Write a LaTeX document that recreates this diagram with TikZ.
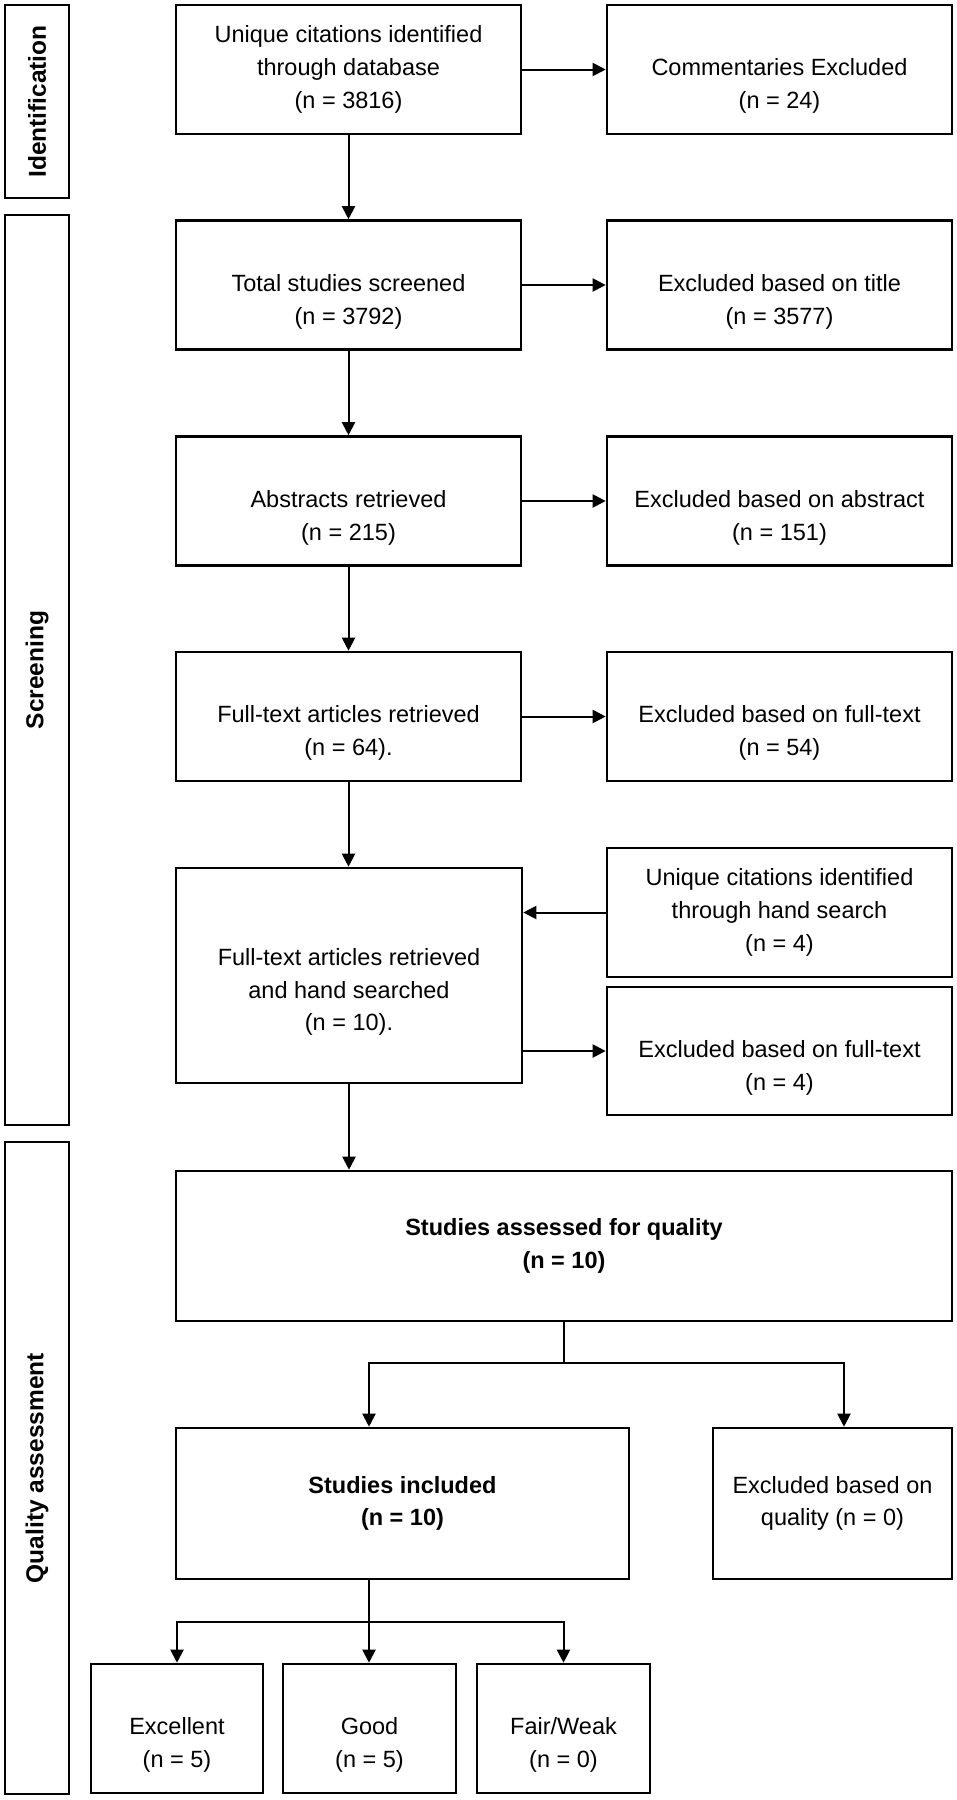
\documentclass[tikz,border=0pt]{standalone}
\usepackage{fontspec}
\setmainfont{Liberation Sans}
\usetikzlibrary{arrows.meta}
\newcommand{\myblank}{\rule{0pt}{17.5pt}\\}
\begin{document}
\begin{tikzpicture}[x=1pt,y=-1pt,
  box/.style={draw=black, line width=2.6pt, align=center, inner sep=0pt,
    font=\fontsize{23.5}{32.7}\selectfont},
  boldbox/.style={box, font=\fontsize{23.5}{32.7}\selectfont\bfseries},
  boxsize/.style 2 args={minimum width=#1pt, minimum height=#2pt},
  side/.style={draw=black, line width=2.6pt, inner sep=0pt, rotate=90,
    font=\fontsize{24.5}{28}\selectfont\bfseries},
  conn/.style={line width=2pt, line cap=rect},
  arr/.style={line width=2pt, -{Triangle[length=13pt,width=13pt]}},
]
\path[use as bounding box] (0,0) rectangle (957,1800);

% side labels
\node[side, boxsize={193}{64}] (sid) at (37,101.5) {Identification};
\node[side, boxsize={910}{64}] (sscr) at (37,670) {Screening};
\node[side, boxsize={652}{64}] (squal) at (37,1468) {Quality assessment};

% main column
\node[box, boxsize={345}{129}] (b1) at (348.5,69.5) {Unique citations identified\\through database\\(n = 3816)};
\node[box, boxsize={345}{129}] (c1) at (779.5,69.5) {\myblank Commentaries Excluded\\(n = 24)};
\node[box, boxsize={345}{129}] (b2) at (348.5,285) {\myblank Total studies screened\\(n = 3792)};
\node[box, boxsize={345}{129}] (c2) at (779.5,285) {\myblank Excluded based on title\\(n = 3577)};
\node[box, boxsize={345}{129}] (b3) at (348.5,501) {\myblank Abstracts retrieved\\(n = 215)};
\node[box, boxsize={345}{129}] (c3) at (779.5,501) {\myblank Excluded based on abstract\\(n = 151)};
\node[box, boxsize={345}{129}] (b4) at (348.5,716.5) {\myblank Full-text articles retrieved\\(n = 64).};
\node[box, boxsize={345}{129}] (c4) at (779.5,716.5) {\myblank Excluded based on full-text\\(n = 54)};

\node[box, boxsize={346}{215}] (b5) at (349,975.5) {\myblank Full-text articles retrieved\\and hand searched\\(n = 10).};
\node[box, boxsize={345}{129}] (hs) at (779.5,912.5) {Unique citations identified\\through hand search\\(n = 4)};
\node[box, boxsize={345}{128}] (c5) at (779.5,1051) {\myblank Excluded based on full-text\\(n = 4)};

\node[boldbox, boxsize={776}{150}] (ass) at (564,1246) {Studies assessed for quality\\(n = 10)};
\node[boldbox, boxsize={453}{151}] (incl) at (402.5,1503.5) {Studies included\\(n = 10)};
\node[box, boxsize={239}{151}] (exq) at (832.5,1503.5) {Excluded based on\\quality (n = 0)};

\node[box, boxsize={172}{129}] (exc) at (177,1728.5) {\myblank Excellent\\(n = 5)};
\node[box, boxsize={173}{129}] (good) at (369.5,1728.5) {\myblank Good\\(n = 5)};
\node[box, boxsize={173}{129}] (fair) at (563.5,1728.5) {\myblank Fair/Weak\\(n = 0)};

% connectors
\draw[arr] (b1) -- (c1);
\draw[arr] (b1) -- (b2);
\draw[arr] (b2) -- (c2);
\draw[arr] (b2) -- (b3);
\draw[arr] (b3) -- (c3);
\draw[arr] (b3) -- (b4);
\draw[arr] (b4) -- (c4);
\draw[arr] (b4.south) -- (b4.south |- b5.north);
\draw[arr] (hs.west) -- (hs.west -| b5.east);
\draw[arr] (b5.east |- c5.west) -- (c5.west);
\draw[arr] (b5.south) -- (b5.south |- ass.north);

\coordinate (jl) at (369,1363);
\coordinate (jr) at (844,1363);
\draw[conn] (ass.south) -- (ass.south |- jl);
\draw[conn] (jl) -- (jr);
\draw[arr] (jl) -- (jl |- incl.north);
\draw[arr] (jr) -- (jr |- exq.north);

\coordinate (jb) at (369,1622);
\draw[conn] (jb |- incl.south) -- (jb);
\draw[conn] (exc.north |- jb) -- (fair.north |- jb);
\draw[arr] (exc.north |- jb) -- (exc.north);
\draw[arr] (jb) -- (jb |- good.north);
\draw[arr] (fair.north |- jb) -- (fair.north);
\end{tikzpicture}
\end{document}
